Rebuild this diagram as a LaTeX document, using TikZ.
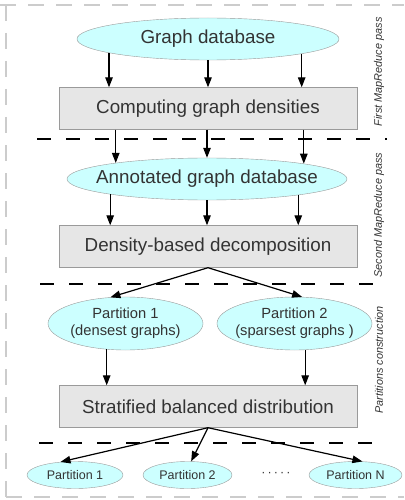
\documentclass[tikz,border=0pt]{standalone}
\usepackage{fontspec}
\setmainfont{Liberation Sans}
\usepackage{xcolor}
\usetikzlibrary{arrows.meta,shapes.geometric}
\definecolor{dbfill}{HTML}{CCFFFF}
\definecolor{stepfill}{HTML}{E6E6E6}
\definecolor{edgegray}{HTML}{9A9A9A}
\definecolor{txtgray}{HTML}{333333}
\tikzset{
	db/.style={ellipse, draw=edgegray, fill=dbfill, inner sep=0pt, text=txtgray},
	bigdb/.style={db, minimum height=42pt, font=\fontsize{18.8}{22}\selectfont},
	partdb/.style={db, minimum width=155pt, minimum height=53pt, font=\fontsize{14.7}{17}\selectfont},
	smalldb/.style={db, minimum height=27pt, font=\fontsize{12.5}{15}\selectfont},
	stepbox/.style={rectangle, draw=edgegray, fill=stepfill, minimum width=298pt,
			minimum height=42pt, inner sep=0pt, text=txtgray, font=\fontsize{18.8}{22}\selectfont},
	flow/.style={-{Triangle[length=10pt,width=7.5pt]}, line width=1.2pt},
	passline/.style={line width=1.3pt, dash pattern=on 14pt off 15pt},
	frame/.style={draw=black!20, line width=1.5pt, dash pattern=on 16pt off 12pt},
	passname/.style={rotate=90, font=\fontsize{10.9}{12}\selectfont\itshape, text=txtgray}
}
\newcommand{\inside}[1]{\makebox[0pt]{#1}}

\begin{document}
\begin{tikzpicture}[x=1pt,y=-1pt]
	\useasboundingbox (0,0) rectangle (404,500);
	% outer frame
	\draw[frame] (0,5) -- (404,5);
	\draw[frame] (6,5) -- (6,497);
	\draw[frame] (6,497) -- (404,497);

	% pass separators
	\draw[passline] (37,139) -- (387,139);
	\draw[passline] (40,284) -- (387,284);
	\draw[passline] (39,443) -- (387,443);

	% first MapReduce pass
	\node[bigdb, minimum width=262pt] (gdb) at (208,39) {\inside{Graph database}};
	\node[stepbox] (cgd) at (208,108.5) {Computing graph densities};
	\draw[flow] (gdb.188.5) -- (gdb.188.5 |- cgd.north);
	\draw[flow] (gdb.south) -- (cgd.north);
	\draw[flow] (gdb.351.3) -- (gdb.351.3 |- cgd.north);

	% second MapReduce pass
	\node[bigdb, minimum width=280pt] (agd) at (207,179) {\inside{Annotated graph database}};
	\node[stepbox] (dbd) at (208,246.5) {Density-based decomposition};
	\draw[flow] (agd.170.2 |- cgd.south) -- (agd.170.2);
	\draw[flow] (agd.north |- cgd.south) -- (agd.north);
	\draw[flow] (agd.9.5 |- cgd.south) -- (agd.9.5);
	\draw[flow] (agd.189.8) -- (agd.189.8 |- dbd.north);
	\draw[flow] (agd.south) -- (agd.south |- dbd.north);
	\draw[flow] (agd.350.5) -- (agd.350.5 |- dbd.north);

	% partitions construction
	\node[partdb] (p1) at (125.5,323.5) {\inside{\begin{tabular}{@{}c@{}}Partition 1\\(densest graphs)\end{tabular}}};
	\node[partdb] (p2) at (294.5,323.5) {\inside{\begin{tabular}{@{}c@{}}Partition 2\\(sparsest graphs )\end{tabular}}};
	\node[stepbox] (sbd) at (208,406.5) {Stratified balanced distribution};
	\draw[flow] (dbd.south) -- (p1.120);
	\draw[flow] (dbd.south) -- (p2.74);
	\draw[flow] (p1.234) -- (p1.234 |- sbd.north);
	\draw[flow] (p2.292) -- (p2.292 |- sbd.north);

	% final partitions
	\node[smalldb, minimum width=96pt] (q1) at (75,475) {Partition 1};
	\node[smalldb, minimum width=89pt] (q2) at (187.5,475) {Partition 2};
	\node[smalldb, minimum width=93pt] (qn) at (355.5,475) {Partition N};
	\node[text=txtgray, font=\fontsize{12.5}{15}\selectfont] (dots) at (276,474) {·\,·\,·\,·\,·};
	\draw[flow] (sbd.south) -- (q1.138);
	\draw[flow] (sbd.south) -- (q2.75);
	\draw[flow] (sbd.south) -- (qn.63);

	% pass names
	\node[passname] (first) at (379,72) {First MapReduce pass};
	\node[passname] (second) at (379,215) {Second MapReduce pass};
	\node[passname] (third) at (379,360) {Partitions construction};
\end{tikzpicture}
\end{document}
